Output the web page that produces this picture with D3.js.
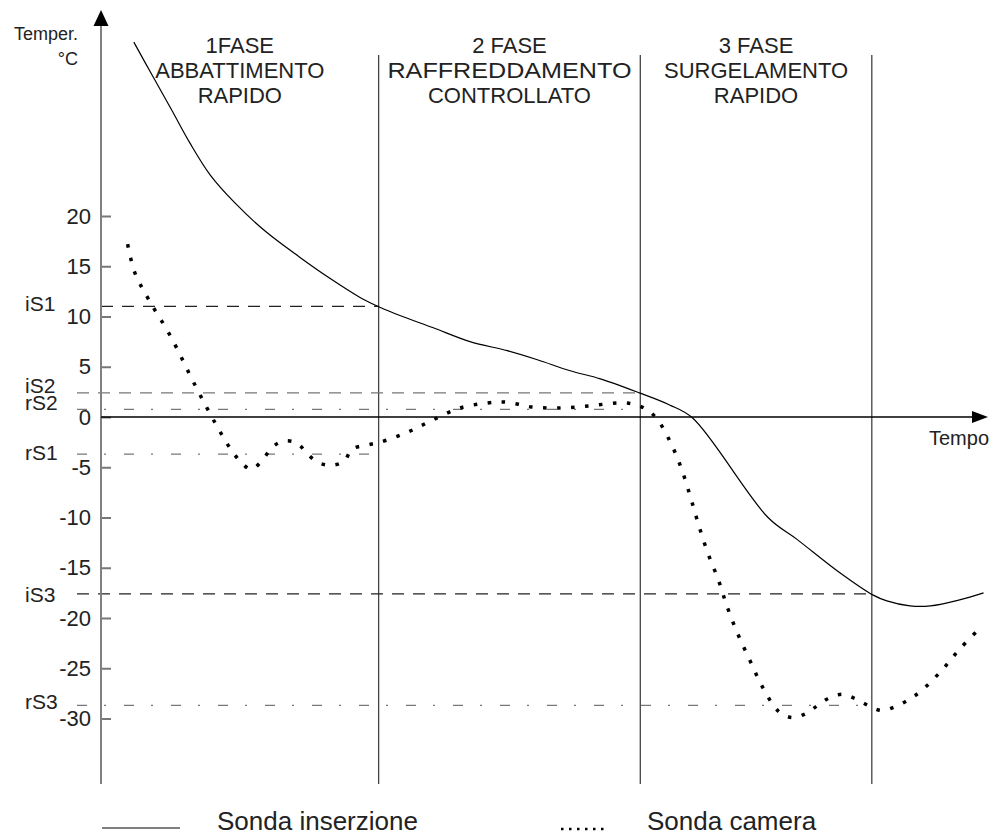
<!DOCTYPE html>
<html>
<head>
<meta charset="utf-8">
<script src="https://cdn.jsdelivr.net/npm/d3@7"></script>
<style>
  body { margin: 0; background: #fff; }
  svg { display: block; font-family: "Liberation Sans", Arial, sans-serif; }
</style>
</head>
<body>
<svg class="chart" width="998" height="836"></svg>
<script>
// time (0..100) and temperature readings
const sondaInserzioneT = [3.7, 5.9, 8.0, 10.0, 12.3, 15.1, 18.5, 22.4, 25.8, 29.2, 31.5, 33.7, 37.4, 41.6, 45.8, 49.2, 52.9, 56.3, 60.7, 64.1, 66.7, 75.2, 78.5, 83.3, 87.0, 88.6, 91.2, 93.5, 96.8, 99.5]
const sondaInserzioneV = [37.3, 33.8, 30.5, 27.3, 24.1, 21.3, 18.5, 15.9, 13.8, 11.9, 10.9, 10.1, 8.9, 7.5, 6.6, 5.7, 4.6, 3.8, 2.4, 1.2, -0.1, -10.0, -12.2, -15.5, -17.7, -18.3, -18.8, -18.8, -18.2, -17.5]

const sondaCameraT = [3.0, 3.8, 5.3, 7.8, 10.7, 13.0, 14.7, 15.7, 16.9, 18.2, 19.2, 20.5, 22.1, 23.2, 24.4, 25.9, 27.4, 28.3, 29.9, 31.5, 34.6, 37.4, 40.5, 43.6, 45.3, 46.9, 48.5, 51.7, 55.0, 58.3, 60.0, 61.4, 62.7, 64.3, 65.5, 66.5, 67.4, 68.4, 69.6, 70.6, 71.8, 73.2, 74.6, 76.4, 77.9, 79.5, 80.8, 82.2, 83.7, 85.2, 86.7, 88.0, 89.6, 91.1, 92.4, 94.7, 96.8, 99.1]
const sondaCameraV = [17.2, 14.4, 11.8, 8.1, 3.0, -0.8, -3.3, -4.4, -5.2, -4.3, -3.1, -2.4, -2.6, -3.6, -4.5, -4.8, -4.4, -3.2, -2.8, -2.5, -1.5, -0.3, 0.9, 1.4, 1.5, 1.3, 1.0, 0.9, 1.1, 1.4, 1.3, 0.8, -0.2, -2.7, -5.3, -8.1, -10.8, -13.5, -16.2, -18.9, -21.6, -24.3, -26.9, -29.3, -29.9, -29.5, -28.7, -27.9, -27.6, -28.1, -28.8, -29.2, -28.8, -28.1, -27.3, -25.3, -23.1, -21.0]

const yTicks = [20, 15, 10, 5, 0, -5, -10, -15, -20, -25, -30]

const soglieNomi = ['iS1', 'iS2', 'rS2', 'rS1', 'iS3', 'rS3']
const soglieValori = [11.0, 2.4, 0.75, -3.7, -17.6, -28.7]
const soglieFine = [31.3, 60.8, 60.8, 30.3, 86.9, 86.9]

const fasiFine = [31.3, 60.8, 86.9]
const fasiTitoli = [
  ['1FASE', 'ABBATTIMENTO', 'RAPIDO'],
  ['2 FASE', 'RAFFREDDAMENTO', 'CONTROLLATO'],
  ['3 FASE', 'SURGELAMENTO', 'RAPIDO'],
]

const legendaNomi = ['Sonda inserzione', 'Sonda camera']

const svg = d3.select('svg.chart')

const x = d3.scaleLinear().domain([0, 100]).range([101, 988])
const y = d3.scaleLinear().domain([-30, 20]).range([718.5, 216])

const axisTop = 10
const axisBottom = 784

// phase separators
svg.selectAll('.fase-line')
  .data(fasiFine)
  .enter()
  .append('line')
  .attr('x1', d => x(d))
  .attr('x2', d => x(d))
  .attr('y1', 55)
  .attr('y2', axisBottom)
  .style('stroke', '#444')
  .style('stroke-width', 1.3)

// phase titles
const fasiStart = [0].concat(fasiFine.slice(0, -1))
svg.selectAll('.fase-title')
  .data(fasiTitoli)
  .enter()
  .append('text')
  .attr('text-anchor', 'middle')
  .style('font-size', '22px')
  .style('fill', '#222')
  .each(function (lines, i) {
    const cx = (x(fasiStart[i]) + x(fasiFine[i])) / 2
    d3.select(this).selectAll('tspan')
      .data(lines)
      .enter()
      .append('tspan')
      .attr('x', cx)
      .attr('y', (d, j) => 53 + j * 25)
      .text(d => d)
  })
// the long word in phase 2 is stretched over the whole column
svg.selectAll('tspan')
  .filter(d => d === 'RAFFREDDAMENTO')
  .attr('textLength', 244)
  .attr('lengthAdjust', 'spacingAndGlyphs')

// threshold lines
const sogliaStile = {
  iS1: { dash: '12,9', color: '#222', from: 101, dy: 5 },
  iS2: { dash: '12,9', color: '#777', from: 77, dy: 0 },
  rS2: { dash: '10,17,2,18', color: '#777', from: 77, dy: 1 },
  rS1: { dash: '10,17,2,18', color: '#777', from: 77, dy: 6 },
  iS3: { dash: '12,9', color: '#222', from: 77, dy: 8 },
  rS3: { dash: '10,17,2,18', color: '#777', from: 77, dy: 4 },
}

svg.selectAll('.soglia')
  .data(soglieNomi)
  .enter()
  .append('line')
  .attr('x1', d => sogliaStile[d].from)
  .attr('x2', (d, i) => x(soglieFine[i]))
  .attr('y1', (d, i) => y(soglieValori[i]))
  .attr('y2', (d, i) => y(soglieValori[i]))
  .style('stroke', d => sogliaStile[d].color)
  .style('stroke-width', 1.3)
  .style('stroke-dasharray', d => sogliaStile[d].dash)

svg.selectAll('.soglia-label')
  .data(soglieNomi)
  .enter()
  .append('text')
  .attr('x', 25)
  .attr('y', (d, i) => y(soglieValori[i]) + sogliaStile[d].dy)
  .style('font-size', '21px')
  .style('fill', '#222')
  .text(d => d)

// y axis ticks and labels
const yAxis = d3.axisLeft(y)
  .tickValues(yTicks)
  .tickSize(-10)
  .tickPadding(10)
  .tickFormat(d => String(d))

const gy = svg.append('g')
  .attr('transform', `translate(${x(0)},0)`)
  .call(yAxis)
gy.select('.domain').remove()
gy.selectAll('.tick line').style('stroke', '#777').style('stroke-width', 2)
gy.selectAll('.tick text')
  .style('font-size', '22px')
  .style('font-family', '"Liberation Sans", Arial, sans-serif')
  .style('fill', '#222')

// y axis line + arrow
svg.append('line')
  .attr('x1', x(0)).attr('x2', x(0))
  .attr('y1', axisBottom).attr('y2', axisTop + 12)
  .style('stroke', '#808080')
  .style('stroke-width', 2)
svg.append('path')
  .attr('d', `M${x(0)},${axisTop} L${x(0) - 7.5},${axisTop + 16} L${x(0) + 7.5},${axisTop + 16} Z`)
  .style('fill', '#000')

// x axis line + arrow
svg.append('line')
  .attr('x1', x(0)).attr('x2', x(100) - 12)
  .attr('y1', y(0)).attr('y2', y(0))
  .style('stroke', '#000')
  .style('stroke-width', 1.5)
svg.append('path')
  .attr('d', `M${x(100)},${y(0)} L${x(100) - 16},${y(0) - 6} L${x(100) - 16},${y(0) + 6} Z`)
  .style('fill', '#000')

// axis titles
svg.append('text')
  .attr('x', 78).attr('y', 40)
  .attr('text-anchor', 'end')
  .style('font-size', '18px')
  .style('fill', '#222')
  .text('Temper.')
svg.append('text')
  .attr('x', 78).attr('y', 65)
  .attr('text-anchor', 'end')
  .style('font-size', '18px')
  .style('fill', '#222')
  .text('°C')
svg.append('text')
  .attr('x', 929).attr('y', 445)
  .style('font-size', '20px')
  .style('fill', '#222')
  .text('Tempo')

// series
const line = d3.line()
  .x(d => x(d[0]))
  .y(d => y(d[1]))
  .curve(d3.curveCatmullRom.alpha(0.5))

svg.append('path')
  .datum(d3.zip(sondaInserzioneT, sondaInserzioneV))
  .attr('d', line)
  .style('fill', 'none')
  .style('stroke', '#000')
  .style('stroke-width', 1.2)

svg.append('path')
  .datum(d3.zip(sondaCameraT, sondaCameraV))
  .attr('d', line)
  .style('fill', 'none')
  .style('stroke', '#000')
  .style('stroke-width', 3.5)
  .style('stroke-dasharray', '3.5,10.5')

// legend
svg.append('line')
  .attr('x1', 102).attr('x2', 180)
  .attr('y1', 828).attr('y2', 828)
  .style('stroke', '#000')
  .style('stroke-width', 1.2)
svg.append('line')
  .attr('x1', 561).attr('x2', 606)
  .attr('y1', 829).attr('y2', 829)
  .style('stroke', '#000')
  .style('stroke-width', 2.5)
  .style('stroke-dasharray', '2.5,5.5')

svg.selectAll('.legend-label')
  .data(legendaNomi)
  .enter()
  .append('text')
  .attr('x', (d, i) => [217, 647][i])
  .attr('y', 830)
  .style('font-size', '26px')
  .style('fill', '#222')
  .text(d => d)
</script>
</body>
</html>
